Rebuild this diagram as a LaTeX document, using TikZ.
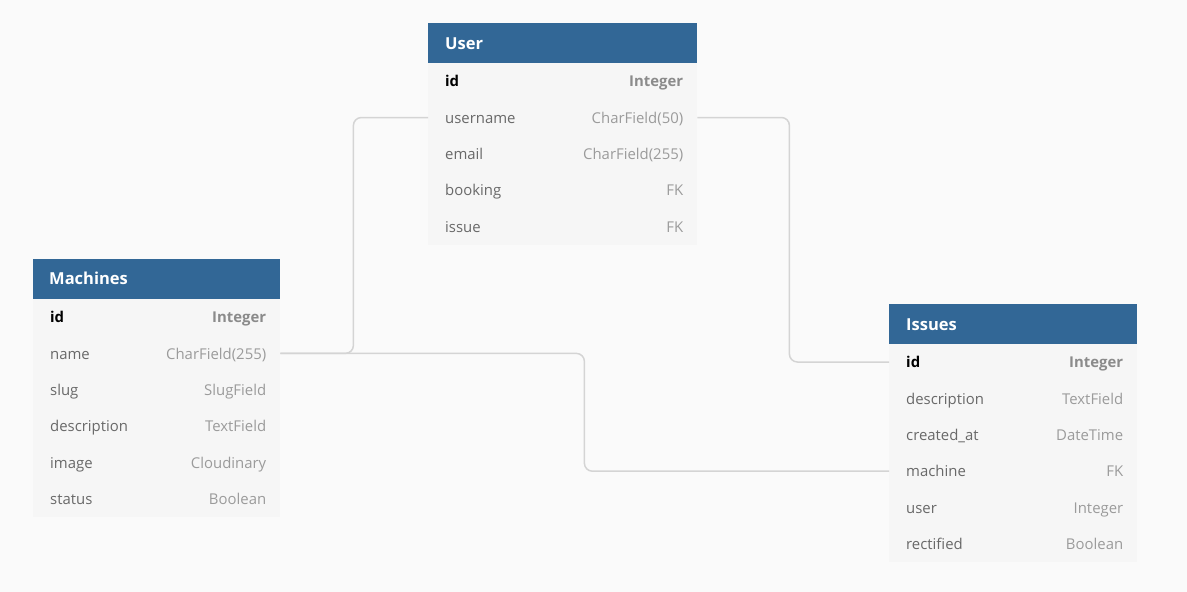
\documentclass[tikz,border=0pt]{standalone}
\usepackage{fontspec}
\setmainfont{Open Sans}
\definecolor{bg}{RGB}{250,250,250}
\definecolor{hdr}{RGB}{50,103,150}
\definecolor{rowfill}{RGB}{246,246,246}
\definecolor{fieldcol}{RGB}{105,105,105}
\definecolor{typecol}{RGB}{155,155,155}
\definecolor{conncol}{RGB}{212,212,212}
\tikzset{
  hdrbox/.style={draw=none, fill=hdr, inner sep=0pt, minimum height=40pt},
  hdrtxt/.style={text=white, font=\fontsize{16.5}{20}\selectfont\bfseries, inner sep=0pt},
  rowbox/.style={draw=none, fill=rowfill, inner sep=0pt, minimum height=36.4pt},
  fieldtxt/.style={text=fieldcol, font=\fontsize{14.9}{17}\selectfont, inner sep=0pt, text height=10.5pt, text depth=3pt},
  typetxt/.style={text=typecol, font=\fontsize{14.9}{17}\selectfont, inner sep=0pt, text height=10.5pt, text depth=3pt},
  pkfield/.style={text=black, font=\fontsize{14.9}{17}\selectfont\bfseries},
  pktype/.style={text=typecol!90!black, font=\fontsize{14.9}{17}\selectfont\bfseries},
  conn/.style={draw=conncol, line width=1.5pt, rounded corners=8pt}
}
% #1 node name, #2 left x, #3 centre y, #4 width, #5 field, #6 type, #7 field style, #8 type style
\newcommand{\tblrow}[8]{%
  \node[rowbox, minimum width=#4, anchor=west] (#1) at (#2,#3) {};
  \node[fieldtxt, #7, anchor=west] (#1-f) at ([xshift=17pt,yshift=-2pt]#1.west) {#5};
  \node[typetxt, #8, anchor=east] (#1-t) at ([xshift=-14pt,yshift=-2pt]#1.east) {#6};
}
\begin{document}
\begin{tikzpicture}[x=1pt,y=-1pt]
\fill[bg] (0,0) rectangle (1187,592);
\useasboundingbox (0,0) rectangle (1187,592);

% ---------- User ----------
\node[hdrbox, minimum width=269pt, anchor=north west] (user) at (428,23) {};
\node[hdrtxt, anchor=west] (user-title) at ([xshift=17pt]user.west) {User};
\tblrow{user-id}{428}{81.2}{269pt}{id}{Integer}{pkfield}{pktype}
\tblrow{user-username}{428}{117.5}{269pt}{username}{CharField(50)}{}{}
\tblrow{user-email}{428}{153.8}{269pt}{email}{CharField(255)}{}{}
\tblrow{user-booking}{428}{190.1}{269pt}{booking}{FK}{}{}
\tblrow{user-issue}{428}{226.4}{269pt}{issue}{FK}{}{}

% ---------- Machines ----------
\node[hdrbox, minimum width=247pt, anchor=north west] (machines) at (33,258.5) {};
\node[hdrtxt, anchor=west] (machines-title) at ([xshift=16pt]machines.west) {Machines};
\tblrow{machines-id}{33}{317}{247pt}{id}{Integer}{pkfield}{pktype}
\tblrow{machines-name}{33}{353.4}{247pt}{name}{CharField(255)}{}{}
\tblrow{machines-slug}{33}{389.8}{247pt}{slug}{SlugField}{}{}
\tblrow{machines-description}{33}{426.2}{247pt}{description}{TextField}{}{}
\tblrow{machines-image}{33}{462.6}{247pt}{image}{Cloudinary}{}{}
\tblrow{machines-status}{33}{499}{247pt}{status}{Boolean}{}{}

% ---------- Issues ----------
\node[hdrbox, minimum width=248pt, anchor=north west] (issues) at (889,304) {};
\node[hdrtxt, anchor=west] (issues-title) at ([xshift=17pt]issues.west) {Issues};
\tblrow{issues-id}{889}{362}{248pt}{id}{Integer}{pkfield}{pktype}
\tblrow{issues-description}{889}{398.4}{248pt}{description}{TextField}{}{}
\tblrow{issues-created}{889}{434.8}{248pt}{created\_at}{DateTime}{}{}
\tblrow{issues-machine}{889}{471.2}{248pt}{machine}{FK}{}{}
\tblrow{issues-user}{889}{507.6}{248pt}{user}{Integer}{}{}
\tblrow{issues-rectified}{889}{544}{248pt}{rectified}{Boolean}{}{}

% ---------- Connectors ----------
\draw[conn] (user-username.east) -- ++(92,0) |- (issues-id.west);
\draw[conn] (machines-name.east) -- ++(73,0) |- (user-username.west);
\draw[conn] (machines-name.east) -- ++(304,0) |- (issues-machine.west);
\end{tikzpicture}
\end{document}
